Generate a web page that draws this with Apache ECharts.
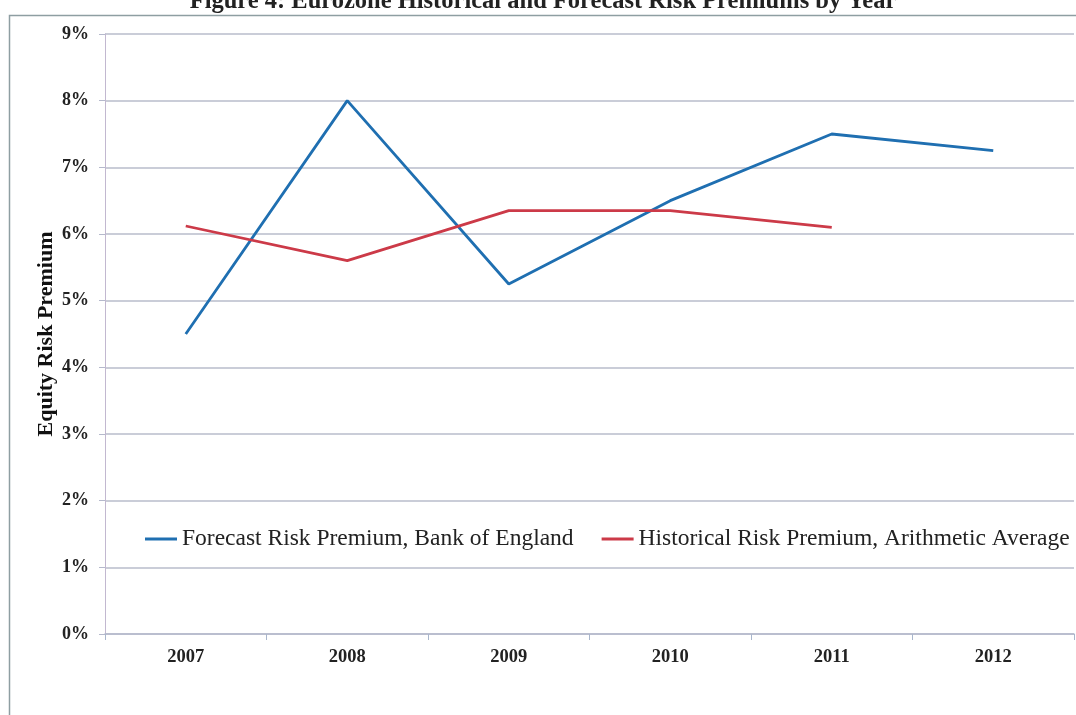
<!DOCTYPE html>
<html>
<head>
<meta charset="utf-8">
<script src="https://cdn.jsdelivr.net/npm/echarts@6/dist/echarts.min.js"></script>
<style>
html,body{margin:0;padding:0;background:#fff;}
#chart{width:1076px;height:715px;}
</style>
</head>
<body>
<div id="chart"></div>
<script>
var years = ['2007','2008','2009','2010','2011','2012'];
var forecastBoE = [4.5, 8.0, 5.25, 6.5, 7.5, 7.25];
var historicalAvg = [6.12, 5.6, 6.35, 6.35, 6.1, null];
var yTicks = [0,1,2,3,4,5,6,7,8,9];

var chart = echarts.init(document.getElementById('chart'));
var serif = '"Liberation Serif","DejaVu Serif","Times New Roman",serif';
chart.setOption({
  backgroundColor: '#fff',
  animation: false,
  title: {
    text: 'Figure 4: Eurozone Historical and Forecast Risk Premiums by Year',
    left: 538, textAlign: 'center', top: -16,
    textStyle: {fontFamily: serif, fontWeight: 'bold', fontSize: 24.5, color: '#222'}
  },
  graphic: [
    {type: 'polyline', shape: {points: [[9.5, 720],[9.5, 15.5],[1080, 15.5]]},
     style: {stroke: '#8e9ea2', lineWidth: 1.5, fill: null}, silent: true}
  ],
  legend: {
    left: 145, top: 527, width: 1000, padding: 0,
    itemWidth: 32, itemHeight: 3, itemGap: 28,
    icon: 'rect',
    textStyle: {fontFamily: serif, fontSize: 23.5, color: '#222'},
    data: ['Forecast Risk Premium, Bank of England', 'Historical Risk Premium, Arithmetic Average']
  },
  grid: {left: 105, right: 2, top: 34, bottom: 81},
  xAxis: {
    type: 'category', data: years, boundaryGap: true,
    axisLine: {lineStyle: {color: '#b5b9cc', width: 1.5}},
    axisTick: {show: true, length: 6, lineStyle: {color: '#a9b6cc'}},
    axisLabel: {fontFamily: serif, fontWeight: 'bold', fontSize: 18.5, color: '#222', margin: 14}
  },
  yAxis: {
    type: 'value', min: 0, max: 9, interval: 1,
    name: 'Equity Risk Premium', nameLocation: 'middle', nameGap: 48, nameMoveOverlap: false,
    nameTextStyle: {fontFamily: serif, fontWeight: 'bold', fontSize: 22, color: '#111'},
    axisLine: {show: true, lineStyle: {color: '#c2b8d0', width: 1}},
    axisTick: {show: true, length: 6, lineStyle: {color: '#b5b9cc'}},
    axisLabel: {fontFamily: serif, fontWeight: 'bold', fontSize: 18, color: '#222', margin: 16,
      formatter: function(v){ return yTicks.indexOf(v) >= 0 ? v + '%' : ''; }},
    splitLine: {lineStyle: {color: '#b8bccb', width: 1.5}}
  },
  series: [
    {name: 'Forecast Risk Premium, Bank of England', type: 'line', data: forecastBoE,
     symbol: 'none', lineStyle: {color: '#1f6fb1', width: 2.8}, itemStyle: {color: '#1f6fb1'}},
    {name: 'Historical Risk Premium, Arithmetic Average', type: 'line', data: historicalAvg,
     symbol: 'none', lineStyle: {color: '#cc3a48', width: 2.8}, itemStyle: {color: '#cc3a48'}}
  ]
});
</script>
</body>
</html>
